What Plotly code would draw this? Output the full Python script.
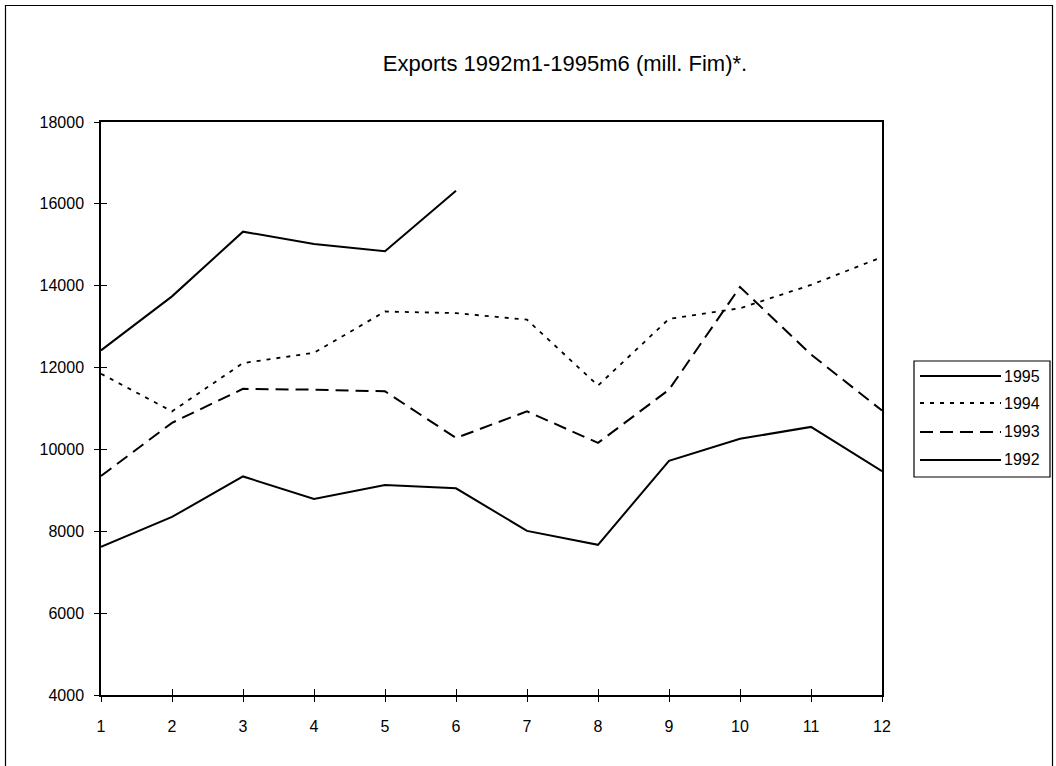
import plotly.graph_objects as go

months = list(range(1, 13))
years = ["1995", "1994", "1993", "1992"]
exp_1995 = [12420, 13740, 15320, 15020, 14840, 16320]
exp_1994 = [11850, 10930, 12110, 12360, 13370, 13330, 13170, 11560, 13190, 13450, 14020, 14700]
exp_1993 = [9350, 10650, 11480, 11460, 11420, 10280, 10930, 10160, 11460, 13970, 12320, 10950]
exp_1992 = [7620, 8350, 9340, 8790, 9130, 9050, 8010, 7670, 9720, 10260, 10550, 9470]
y_ticks = [4000, 6000, 8000, 10000, 12000, 14000, 16000, 18000]

dashes = ["solid", "4px,6px", "13px,7px", "solid"]
widths = [2, 1.8, 2, 2]
values = [exp_1995, exp_1994, exp_1993, exp_1992]

W, H = 1056, 766
L, R, T, B = 101, 174, 122, 71
PW, PH = W - L - R, H - T - B


def px(x):
    return (x - L) / PW


def py(y):
    return (H - B - y) / PH


fig = go.Figure()
for name, vals, dash, w in zip(years, values, dashes, widths):
    fig.add_trace(go.Scatter(
        x=months[:len(vals)], y=vals, name=name, mode="lines",
        line=dict(color="black", width=w, dash=dash), showlegend=False,
    ))

font = "Liberation Sans, Arial, sans-serif"
axis_common = dict(showgrid=False, zeroline=False, showline=True, linecolor="black",
                   linewidth=1.5, mirror=True, ticks="outside", ticklen=5,
                   tickcolor="black", tickwidth=1, tickformat="d",
                   tickfont=dict(family=font, size=16, color="black"))

fig.update_layout(
    width=W, height=H,
    paper_bgcolor="white", plot_bgcolor="white",
    margin=dict(l=L, r=R, t=T, b=B),
    title=dict(text="Exports 1992m1-1995m6 (mill. Fim)*.", x=565 / W, xanchor="center",
               y=1 - 63 / H, yanchor="middle",
               font=dict(family=font, size=22, color="black")),
    xaxis=dict(range=[1, 12], tickmode="array", tickvals=months, ticklabelstandoff=11,
               **axis_common),
    yaxis=dict(range=[4000, 18000], tickmode="array", tickvals=y_ticks, ticklabelstandoff=7,
               **axis_common),
    xaxis2=dict(range=[1, 12], overlaying="x", tickmode="array", tickvals=months,
                ticks="inside", ticklen=6, tickcolor="black", showticklabels=False,
                showgrid=False, zeroline=False, showline=False),
    yaxis2=dict(range=[4000, 18000], overlaying="y", tickmode="array", tickvals=y_ticks,
                ticks="inside", ticklen=6, tickcolor="black", showticklabels=False,
                showgrid=False, zeroline=False, showline=False),
    showlegend=False,
)

# invisible trace to activate overlay axes for cross ticks
fig.add_trace(go.Scatter(x=[1], y=[4000], xaxis="x2", yaxis="y2", mode="markers",
                         marker=dict(opacity=0), showlegend=False, hoverinfo="skip"))

# legend box
fig.add_shape(type="rect", xref="paper", yref="paper",
              x0=px(914), x1=px(1050), y0=py(477), y1=py(361),
              line=dict(color="black", width=1.2), fillcolor="white")
rows = [376, 403, 432, 460]
for name, dash, w, ry in zip(years, dashes, widths, rows):
    fig.add_shape(type="line", xref="paper", yref="paper",
                  x0=px(920), x1=px(1001), y0=py(ry), y1=py(ry),
                  line=dict(color="black", width=w, dash=dash))
    fig.add_annotation(text=name, xref="paper", yref="paper", x=px(1002), y=py(ry),
                       xanchor="left", yanchor="middle", showarrow=False,
                       font=dict(family=font, size=16, color="black"))

# outer frame
fig.add_shape(type="rect", xref="paper", yref="paper",
              x0=px(5.5), x1=px(1052.5), y0=py(772), y1=py(5.5),
              line=dict(color="black", width=1.2))

fig.write_html("out.html", config={"displayModeBar": False},
               post_script="document.body.style.margin='0';")
